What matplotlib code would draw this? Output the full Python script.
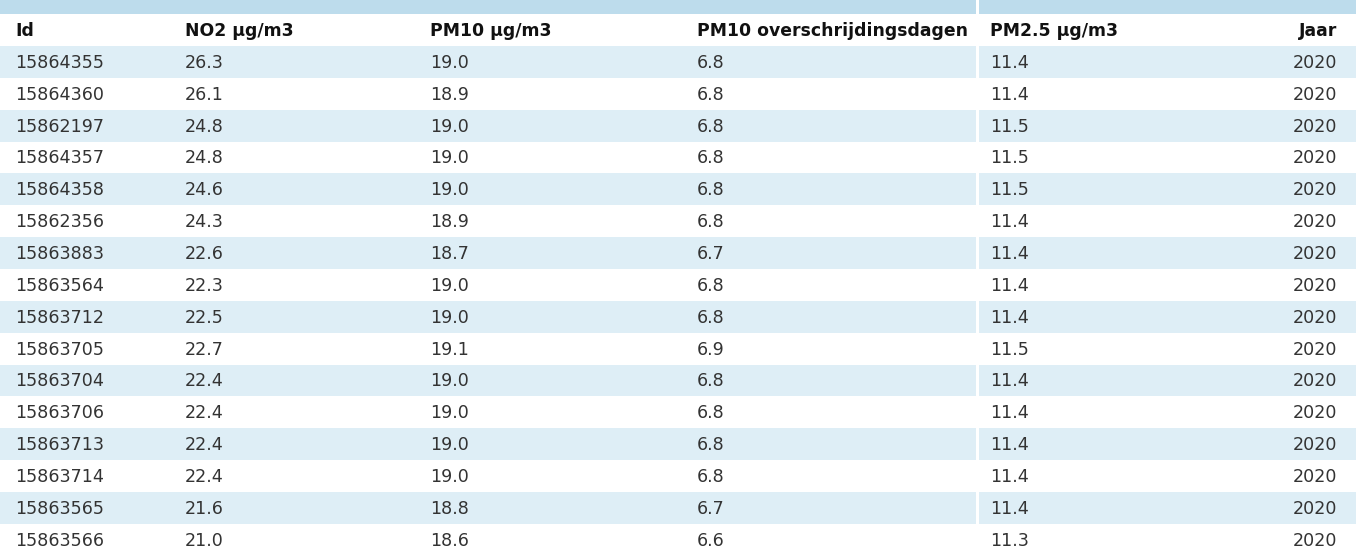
import matplotlib
matplotlib.use("Agg")
import matplotlib.pyplot as plt
from matplotlib.patches import Rectangle

headers = ["Id", "NO2 µg/m3", "PM10 µg/m3", "PM10 overschrijdingsdagen", "PM2.5 µg/m3", "Jaar"]
ids = ["15864355","15864360","15862197","15864357","15864358","15862356","15863883","15863564",
       "15863712","15863705","15863704","15863706","15863713","15863714","15863565","15863566"]
no2 = ["26.3","26.1","24.8","24.8","24.6","24.3","22.6","22.3","22.5","22.7","22.4","22.4","22.4","22.4","21.6","21.0"]
pm10 = ["19.0","18.9","19.0","19.0","19.0","18.9","18.7","19.0","19.0","19.1","19.0","19.0","19.0","19.0","18.8","18.6"]
pm10_days = ["6.8","6.8","6.8","6.8","6.8","6.8","6.7","6.8","6.8","6.9","6.8","6.8","6.8","6.8","6.7","6.6"]
pm25 = ["11.4","11.4","11.5","11.5","11.5","11.4","11.4","11.4","11.4","11.5","11.4","11.4","11.4","11.4","11.4","11.3"]
jaar = ["2020"] * 16

W, H = 1358, 556
fig = plt.figure(figsize=(W/100, H/100), dpi=100)
ax = fig.add_axes([0, 0, 1, 1])
ax.set_xlim(0, W); ax.set_ylim(H, 0); ax.axis("off")

col_x = [15, 185, 430, 697, 990, 1337]
align = ["left"]*5 + ["right"]
ax.add_patch(Rectangle((0, 0), 1356, 14, color="#bddcec", lw=0))
hy = 31
for x, h, a in zip(col_x, headers, align):
    ax.text(x, hy, h, ha=a, va="center", fontsize=12.4, fontweight="bold", color="#111111")
top = 46; rh = 31.85
cols = [ids, no2, pm10, pm10_days, pm25, jaar]
for i in range(len(ids)):
    y0 = top + i*rh
    if i % 2 == 0:
        ax.add_patch(Rectangle((0, y0), 1356, rh, color="#deeef6", lw=0))
    for x, c, a in zip(col_x, cols, align):
        ax.text(x, y0 + rh/2 + 1, c[i], ha=a, va="center", fontsize=12.6, color="#333333")
ax.add_patch(Rectangle((975.5, 0), 3, H, color="white", lw=0, zorder=5))
fig.savefig("out.png", dpi=100)
